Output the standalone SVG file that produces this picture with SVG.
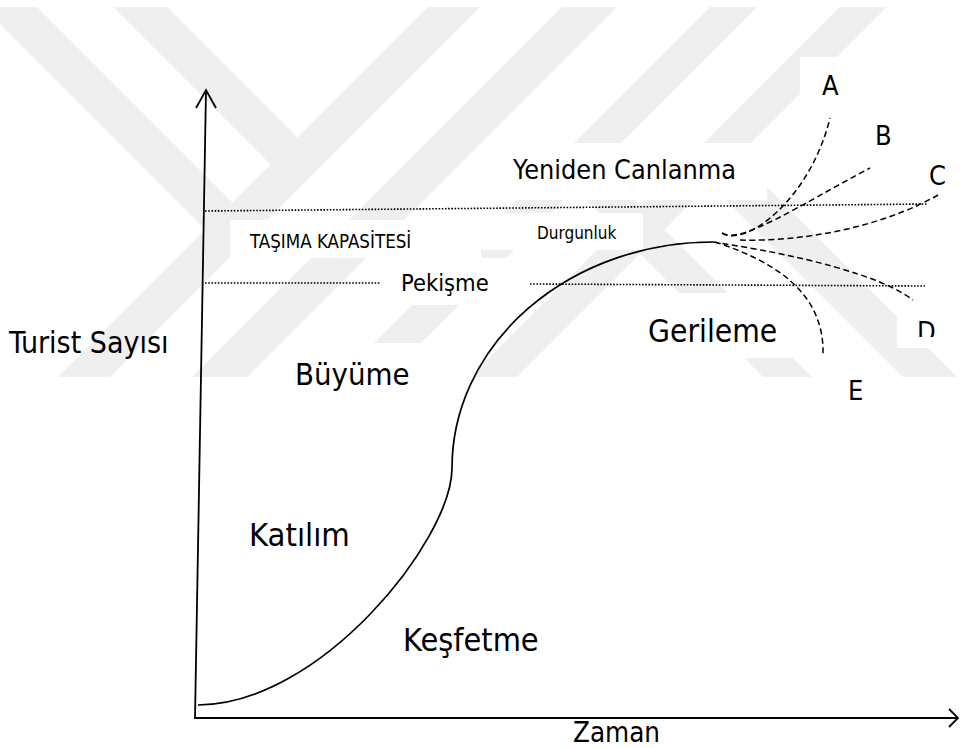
<svg xmlns="http://www.w3.org/2000/svg" width="961" height="748" viewBox="0 0 961 748">
<defs>
<style>
.wm{fill:#efefef}
.bg{fill:#ffffff}
.t{font-family:"DejaVu Sans Condensed","DejaVu Sans",Verdana,sans-serif;fill:#000}
.ax{stroke:#000;stroke-width:1.8;fill:none}
.cv{stroke:#000;stroke-width:1.7;fill:none}
.ds{stroke:#000;stroke-width:1.5;fill:none;stroke-dasharray:6 3.5}
.dt{stroke:#000;stroke-width:1.6;fill:none;stroke-dasharray:1.6 1.6}
</style>
<clipPath id="wmclip"><rect x="0" y="7" width="961" height="370"/></clipPath>
<clipPath id="dclip"><rect x="897" y="300" width="64" height="37"/></clipPath>
</defs>
<rect width="961" height="748" fill="#fff"/>
<g id="watermark" clip-path="url(#wmclip)">
<polygon class="wm" points="428,7 480,7 110,377 58,377"/>
<polygon class="wm" points="562,7 617,7 247,377 192,377"/>
<polygon class="wm" points="710,7 757,7 387,377 340,377"/>
<polygon class="wm" points="840,7 887,7 517,377 470,377"/>
<polygon class="wm" points="-17,7 37,7 258.5,228.5 231.5,255.5"/>
<polygon class="wm" points="113,7 167,7 310.5,150.5 283.5,177.5"/>
<polygon class="wm" points="587.5,152.5 812,377 763,377 563,177"/>
<polygon class="wm" points="725,145 957,377 903,377 698,172"/>
</g>
<g id="label-boxes">
<rect class="bg" x="800" y="57" width="70" height="56"/>
<rect class="bg" x="495" y="143" width="272" height="57"/>
<rect class="bg" x="481" y="213" width="162" height="37"/>
<rect class="bg" x="230" y="220" width="251" height="38"/>
<rect class="bg" x="380" y="258" width="150" height="47"/>
<rect class="bg" x="290" y="343" width="185" height="57"/>
<rect class="bg" x="600" y="293" width="195" height="65"/>
<rect class="bg" x="897" y="300" width="64" height="48"/>
</g>
<g id="connectors">
<line class="ax" x1="195" y1="719" x2="206" y2="90"/>
<polyline class="ax" points="196,108 206,90 216,108"/>
<line class="ax" x1="194" y1="718" x2="958" y2="718"/>
<polyline class="ax" points="949,709 958,718 949,727"/>
<path class="cv" d="M198,705 C320,705 452,540 452,468 A261,226 0 0 1 713,242"/>
<line class="dt" x1="205" y1="211" x2="928" y2="204"/>
<line class="dt" x1="205" y1="283" x2="380" y2="283"/>
<line class="dt" x1="530" y1="284" x2="925" y2="286"/>
<path id="branch-a" class="ds" d="M722,233 C745,248 810,200 830,118"/>
<path id="branch-b" class="ds" d="M722,233 C740,245 800,205 870,168"/>
<path id="branch-c" class="ds" d="M740,240 C800,242 880,228 938,195"/>
<path id="branch-d" class="ds" d="M713,242 C800,255 880,275 913,300"/>
<path id="branch-e" class="ds" d="M715,242 C770,260 825,290 823,355"/>
</g>
<g id="node-yeniden"><text class="t" x="513" y="179" font-size="26.8">Yeniden Canlanma</text></g>
<g id="node-durgunluk"><text class="t" x="537" y="239" font-size="17">Durgunluk</text></g>
<g id="node-tasima"><text class="t" x="250" y="248" font-size="18.6">TAŞIMA KAPASİTESİ</text></g>
<g id="node-pekisme"><text class="t" x="401" y="291" font-size="23.5">Pekişme</text></g>
<g id="node-gerileme"><text class="t" x="648" y="342" font-size="31.5">Gerileme</text></g>
<g id="node-turist"><text class="t" x="9" y="353" font-size="30">Turist Sayısı</text></g>
<g id="node-buyume"><text class="t" x="295" y="385" font-size="30.8">Büyüme</text></g>
<g id="node-katilim"><text class="t" x="249" y="546" font-size="32.5">Katılım</text></g>
<g id="node-kesfetme"><text class="t" x="403" y="651" font-size="32.2">Keşfetme</text></g>
<g id="node-zaman"><text class="t" x="573" y="742" font-size="27.5">Zaman</text></g>
<g id="node-a"><text class="t" x="822" y="95" font-size="27">A</text></g>
<g id="node-b"><text class="t" x="875" y="145" font-size="27">B</text></g>
<g id="node-c"><text class="t" x="929" y="185" font-size="27">C</text></g>
<g id="node-d" clip-path="url(#dclip)"><text class="t" x="917" y="341" font-size="27">D</text></g>
<g id="node-e"><text class="t" x="848" y="400" font-size="27">E</text></g>
</svg>
